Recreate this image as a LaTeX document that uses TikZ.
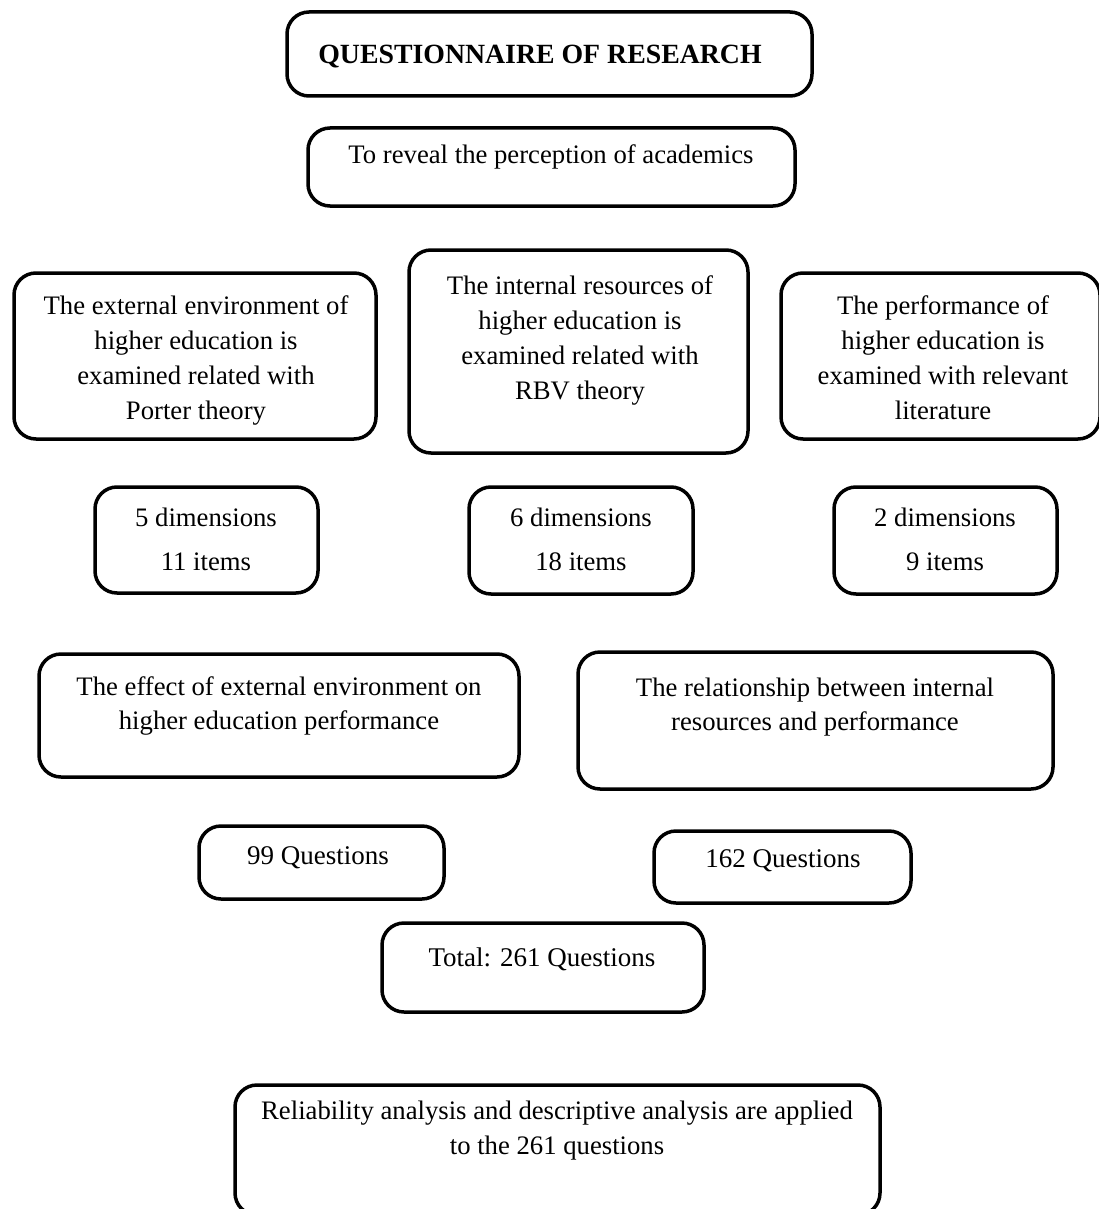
\documentclass[tikz,border=0pt]{standalone}
\usepackage{fontspec}
\setmainfont{Liberation Serif}
\begin{document}
\begin{tikzpicture}[x=1pt,y=-1pt,
  box/.style={draw=black, line width=3.5pt, rounded corners=22pt, inner sep=0pt, fill=none},
  txt/.style={inner sep=0pt, align=center, anchor=base, font=\fontsize{26.7}{35}\selectfont},
  txtb/.style={txt, font=\fontsize{27}{35}\selectfont}]
\useasboundingbox[fill=white] (0,0) rectangle (1099,1209);
% boxes
\node[box, minimum width=525pt, minimum height=84pt] (b1) at (549.5,54) {};
\node[box, minimum width=487pt, minimum height=78pt] (b2) at (551.5,167) {};
\node[box, minimum width=362pt, minimum height=166pt] (b3) at (195,356) {};
\node[box, minimum width=339pt, minimum height=203pt] (b4) at (578.5,351.5) {};
\node[box, minimum width=319pt, minimum height=166pt] (b5) at (940.5,356) {};
\node[box, minimum width=223pt, minimum height=106pt] (b6) at (206.5,540) {};
\node[box, minimum width=224pt, minimum height=107pt] (b7) at (581,540.5) {};
\node[box, minimum width=223pt, minimum height=107pt] (b8) at (945.5,540.5) {};
\node[box, minimum width=480pt, minimum height=123pt] (b9) at (279,715.5) {};
\node[box, minimum width=475pt, minimum height=137pt] (b10) at (815.5,720.5) {};
\node[box, minimum width=245pt, minimum height=73pt] (b11) at (321.5,862.5) {};
\node[box, minimum width=257pt, minimum height=72pt] (b12) at (782.5,867) {};
\node[box, minimum width=322pt, minimum height=89pt] (b13) at (543,967.5) {};
\node[box, minimum width=645pt, minimum height=130pt] (b14) at (557.5,1150) {};
% texts
\node[txt, font=\fontsize{27.8}{30}\selectfont\bfseries] (t1) at (540,64) {QUESTIONNAIRE OF RESEARCH};
\node[txt] (t2) at (551,164) {To reveal the perception of academics};
\node[txt] (t3) at (196,419) {The external environment of\\higher education is\\examined related with\\Porter theory};
\node[txt] (t4) at (580,399) {The internal resources of\\higher education is\\examined related with\\RBV theory};
\node[txt] (t5) at (943,419) {The performance of\\higher education is\\examined with relevant\\literature};
\node[txt, font=\fontsize{26.7}{44}\selectfont] (t6) at (206,570) {5 dimensions\\11 items};
\node[txt, font=\fontsize{26.7}{44}\selectfont] (t7) at (581,570) {6 dimensions\\18 items};
\node[txt, font=\fontsize{26.7}{44}\selectfont] (t8) at (945,570) {2 dimensions\\9 items};
\node[txt, font=\fontsize{26.7}{34}\selectfont] (t9) at (279,729) {The effect of external environment on\\higher education performance};
\node[txt, font=\fontsize{26.7}{34}\selectfont] (t10) at (815,730) {The relationship between internal\\resources and performance};
\node[txtb] (t11) at (318,864) {99 Questions};
\node[txtb] (t12) at (783,867) {162 Questions};
\node[txtb] (t13) at (542,966) {Total: 261 Questions};
\node[txt] (t14) at (557,1154) {Reliability analysis and descriptive analysis are applied\\to the 261 questions};
\end{tikzpicture}
\end{document}
